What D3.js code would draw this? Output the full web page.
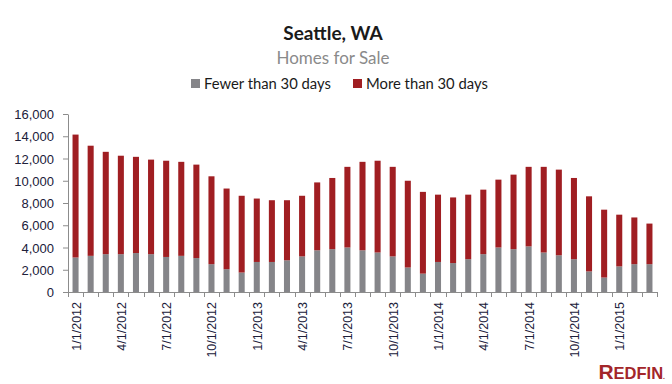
<!DOCTYPE html>
<html>
<head>
<meta charset="utf-8">
<script src="https://cdn.jsdelivr.net/npm/d3@7"></script>
<style>
  body { margin: 0; background: #fff; }
  svg { display: block; }
  .title { font-family: Lato, "Open Sans", sans-serif; font-weight: 700; font-size: 19px; fill: #1a1a1a; }
  .subtitle { font-family: Lato, "Open Sans", sans-serif; font-size: 17px; fill: #8a8a8a; }
  .legend text { font-family: Lato, "Open Sans", sans-serif; font-size: 14.8px; fill: #1a1a1a; }
  .axis text { font-family: "Liberation Sans", Arial, sans-serif; font-size: 13px; fill: #20203a; }
  .axis path, .axis line { stroke: #8c8c8c; }
  .xlab { font-family: "Liberation Sans", Arial, sans-serif; font-size: 12.5px; fill: #20203a; }
</style>
</head>
<body>
<div id="chart"></div>
<script>
// monthly inventory, Jan 2012 .. Mar 2015
const months = [
  "1/1/2012","2/1/2012","3/1/2012","4/1/2012","5/1/2012","6/1/2012","7/1/2012","8/1/2012","9/1/2012","10/1/2012","11/1/2012","12/1/2012",
  "1/1/2013","2/1/2013","3/1/2013","4/1/2013","5/1/2013","6/1/2013","7/1/2013","8/1/2013","9/1/2013","10/1/2013","11/1/2013","12/1/2013",
  "1/1/2014","2/1/2014","3/1/2014","4/1/2014","5/1/2014","6/1/2014","7/1/2014","8/1/2014","9/1/2014","10/1/2014","11/1/2014","12/1/2014",
  "1/1/2015","2/1/2015","3/1/2015"
];
const fewerThan30 = [
  3100,3250,3400,3400,3500,3400,3150,3250,3050,2500,2050,1750,
  2700,2700,2850,3200,3750,3850,4000,3750,3550,3200,2200,1650,
  2700,2600,2950,3400,4000,3850,4100,3550,3300,2950,1850,1300,
  2300,2500,2500
];
const moreThan30 = [
  11050,9900,9200,8850,8650,8500,8650,8450,8400,7900,7250,6900,
  5700,5550,5400,5450,6100,6400,7250,7950,8250,8050,7800,7350,
  6050,5900,5800,5800,6100,6700,7150,7700,7700,7300,6750,6100,
  4650,4200,3650
];
const yTicks = [0,2000,4000,6000,8000,10000,12000,14000,16000];
const seriesNames = ["Fewer than 30 days", "More than 30 days"];
const colors = ["#858589", "#a01e22"];

const W = 672, H = 384;
const plotL = 68, plotR = 657, plotT = 114, plotB = 292;

const svg = d3.select("#chart").append("svg").attr("width", W).attr("height", H);

const rows = months.map((m, i) => ({month: m, fewer: fewerThan30[i], more: moreThan30[i]}));
const stack = d3.stack().keys(["fewer", "more"])(rows);

const x = d3.scaleBand().domain(months).range([plotL, plotR]).paddingInner(0.6).paddingOuter(0.3);
const y = d3.scaleLinear().domain([0, 16000]).range([plotB, plotT]);

// bars
svg.append("g").selectAll("g")
  .data(stack)
  .join("g")
  .attr("fill", (d, i) => colors[i])
  .selectAll("rect")
  .data(d => d)
  .join("rect")
  .attr("x", d => x(d.data.month))
  .attr("width", x.bandwidth())
  .attr("y", d => y(d[1]))
  .attr("height", d => y(d[0]) - y(d[1]));

// y axis
const yAxis = svg.append("g").attr("class", "axis")
  .attr("transform", `translate(${plotL},0)`)
  .call(d3.axisLeft(y).tickValues(yTicks).tickFormat(d3.format(",")).tickSize(5).tickSizeOuter(0).tickPadding(9));
yAxis.selectAll("text").attr("dy", "0.36em");

// x axis: line + ticks on month boundaries
const xg = svg.append("g").attr("class", "axis");
xg.append("line").attr("x1", plotL).attr("x2", plotR).attr("y1", plotB + 0.5).attr("y2", plotB + 0.5);
xg.selectAll(".tk")
  .data(d3.range(months.length + 1))
  .join("line")
  .attr("x1", i => Math.round(plotL + i * x.step()) + 0.5)
  .attr("x2", i => Math.round(plotL + i * x.step()) + 0.5)
  .attr("y1", plotB)
  .attr("y2", plotB + 5);

svg.append("g").selectAll("text")
  .data(months.filter((m, i) => i % 3 === 0))
  .join("text")
  .attr("class", "xlab")
  .attr("text-anchor", "end")
  .attr("transform", d => `translate(${x(d) + x.bandwidth() / 2 + 5},${plotB + 10}) rotate(-90)`)
  .text(d => d);

// titles
svg.append("text").attr("class", "title").attr("x", 333).attr("y", 40).attr("text-anchor", "middle").text("Seattle, WA");
svg.append("text").attr("class", "subtitle").attr("x", 333).attr("y", 64).attr("text-anchor", "middle").text("Homes for Sale");

// legend
const legendX = [191, 353];
const lg = svg.append("g").attr("class", "legend");
seriesNames.forEach((name, i) => {
  lg.append("rect").attr("x", legendX[i]).attr("y", 79).attr("width", 9).attr("height", 9).attr("fill", colors[i]);
  lg.append("text").attr("x", legendX[i] + 13).attr("y", 88.5).text(name);
});

// logo
const logo = svg.append("text")
  .attr("x", 665).attr("y", 379).attr("text-anchor", "end")
  .attr("font-family", "'Liberation Sans', Arial, sans-serif")
  .attr("font-weight", 700).attr("fill", "#a3262a");
logo.append("tspan").attr("font-size", "21px").text("R");
logo.append("tspan").attr("font-size", "16.5px").text("EDFIN");
logo.append("tspan").attr("font-size", "7px").text(".");
</script>
</body>
</html>
